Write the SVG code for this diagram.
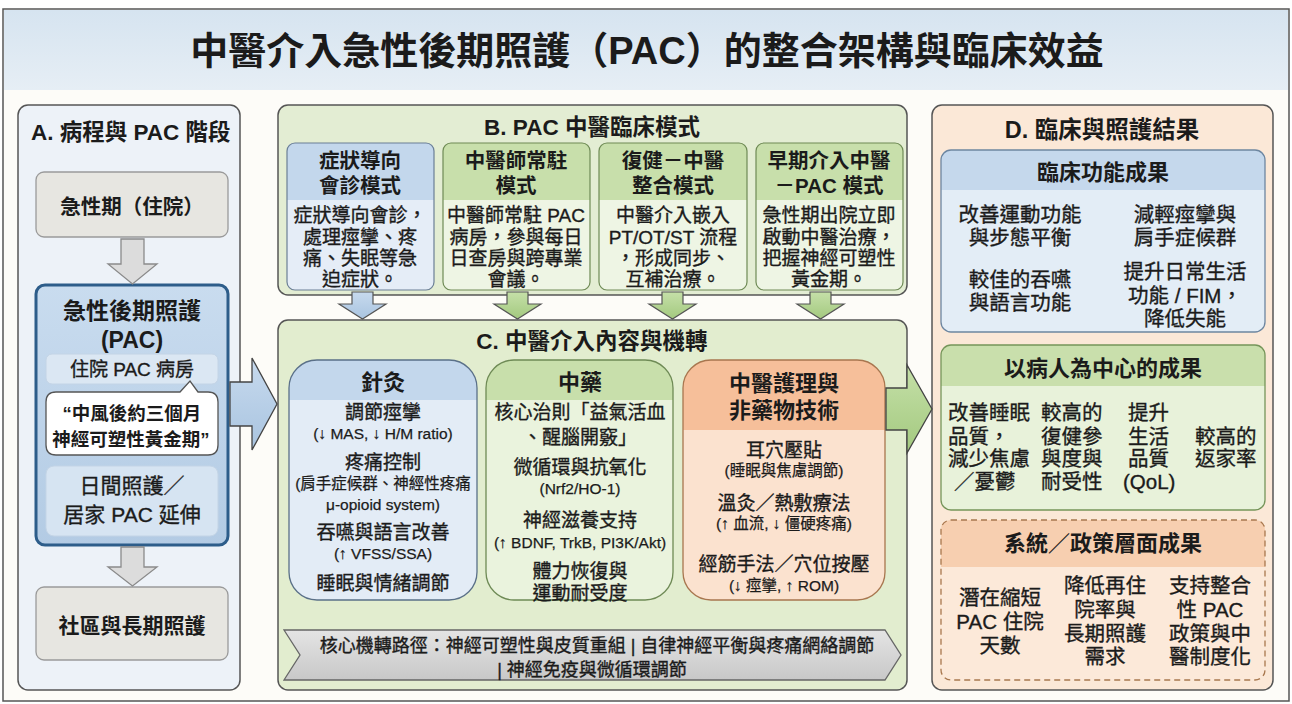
<svg xmlns="http://www.w3.org/2000/svg" width="1292" height="704" viewBox="0 0 1292 704">
<defs>
<linearGradient id="gTitle" x1="0" y1="0" x2="0" y2="1"><stop offset="0" stop-color="#d6e4f0"/><stop offset="1" stop-color="#e6eef5"/></linearGradient>
<linearGradient id="gPac" x1="0" y1="0" x2="0" y2="1"><stop offset="0" stop-color="#c9dcef"/><stop offset="1" stop-color="#b3cbe4"/></linearGradient>
<linearGradient id="gChev" x1="0" y1="0" x2="0" y2="1"><stop offset="0" stop-color="#e4e4e4"/><stop offset="1" stop-color="#c8c8c8"/></linearGradient>
<linearGradient id="gBlueArr" x1="0" y1="0" x2="0" y2="1"><stop offset="0" stop-color="#c7daee"/><stop offset="1" stop-color="#a9c4e0"/></linearGradient>
<linearGradient id="gGreenArr" x1="0" y1="0" x2="0" y2="1"><stop offset="0" stop-color="#c5e0a8"/><stop offset="1" stop-color="#a3c97f"/></linearGradient>
<style>
text{font-family:"Liberation Sans","Noto Sans CJK TC",sans-serif;fill:#1b1b1b;dominant-baseline:central}
.c{text-anchor:middle}
.b{font-weight:bold}
.t1{font-size:38px;font-weight:bold}
.ph{font-size:22.5px;font-weight:bold}
.hd{font-size:20.5px;font-weight:bold}
.hc{font-size:22px;font-weight:bold}
.bd{font-size:19px;stroke:#1b1b1b;stroke-width:0.35}
.dt{font-size:20.5px;stroke:#1b1b1b;stroke-width:0.35}
.sm{font-size:15.5px;stroke:#1b1b1b;stroke-width:0.25}
.panel{stroke:#555;stroke-width:1.5}
.gray{fill:#e7e6e1;stroke:#9a9a9a;stroke-width:1.3}
.dn{fill:#dcdcdc;stroke:#8a8a8a;stroke-width:1.3}
</style>
</defs>

<rect x="3" y="9" width="1286" height="692" fill="#fdfcf8" stroke="#555" stroke-width="1.5"/>
<rect x="4" y="10" width="1284" height="80" fill="url(#gTitle)"/>
<text id="title" class="t1 c" x="647" y="51">中醫介入急性後期照護（PAC）的整合架構與臨床效益</text>

<!-- Panel A -->
<g id="panelA">
<rect class="panel" x="18" y="105" width="222" height="585" rx="10" fill="#edf2f8"/>
<text class="ph" x="31" y="132">A. 病程與 PAC 階段</text>
</g>
<g id="acute">
<rect class="gray" x="36" y="172" width="192" height="65" rx="8"/>
<text class="hd c" x="132" y="206">急性期（住院）</text>
</g>
<g id="pac">
<rect x="36" y="285" width="192" height="260" rx="9" fill="url(#gPac)" stroke="#2d5d8a" stroke-width="3"/>
<text class="c b" font-size="23" x="132" y="311">急性後期照護</text>
<text class="c b" font-size="23" x="132" y="340">(PAC)</text>
<rect x="46" y="354" width="172" height="30" rx="6" fill="#dbe7f3" stroke="#c3d4e6"/>
<text class="bd c" font-size="20" x="132" y="369">住院 PAC 病房</text>
<path d="M56 392 H180 L190 381 L198 392 H208 Q218 392 218 402 V445 Q218 455 208 455 H56 Q46 455 46 445 V402 Q46 392 56 392 Z" fill="#fff" stroke="#555" stroke-width="1.3"/>
<text class="c b" x="132" y="413" font-size="18.5">“中風後約三個月</text>
<text class="c b" x="131" y="439" font-size="18.5">神經可塑性黃金期”</text>
<rect x="46" y="466" width="172" height="70" rx="8" fill="#d6e4f2" stroke="#c3d4e6"/>
<text class="bd c" style="font-size:21px" x="132" y="485">日間照護／</text>
<text class="bd c" style="font-size:21px" x="132" y="514">居家 PAC 延伸</text>
</g>
<g id="community">
<rect class="gray" x="36" y="587" width="192" height="73" rx="8"/>
<text class="hd c" style="font-size:21px" x="132" y="625">社區與長期照護</text>
</g>

<!-- Panel B -->
<g id="panelB">
<rect class="panel" x="278" y="105" width="629" height="190" rx="10" fill="#e3edd3"/>
<text class="ph c" x="592" y="127">B. PAC 中醫臨床模式</text>
</g>
<g id="b1">
<rect x="287" y="143" width="147" height="147" rx="8" fill="#e5edf7"/>
<path d="M287 200 V151 Q287 143 295 143 H426 Q434 143 434 151 V200 Z" fill="#c3d7ec"/>
<rect x="287" y="143" width="147" height="147" rx="8" fill="none" stroke="#6b7f95" stroke-width="1.2"/>
<text class="hd c" x="360" y="160">症狀導向</text>
<text class="hd c" x="360" y="185">會診模式</text>
<text class="bd c" x="360" y="215">症狀導向會診，</text>
<text class="bd c" x="360" y="237">處理痙攣、疼</text>
<text class="bd c" x="360" y="258">痛、失眠等急</text>
<text class="bd c" x="360" y="279">迫症狀。</text>
</g>
<g id="b2">
<rect x="443" y="143" width="147" height="147" rx="8" fill="#eef5e4"/>
<path d="M443 200 V151 Q443 143 451 143 H582 Q590 143 590 151 V200 Z" fill="#c8dfab"/>
<rect x="443" y="143" width="147" height="147" rx="8" fill="none" stroke="#6e8a55" stroke-width="1.2"/>
<text class="hd c" x="516" y="160">中醫師常駐</text>
<text class="hd c" x="516" y="185">模式</text>
<text class="bd c" x="516" y="215">中醫師常駐 PAC</text>
<text class="bd c" x="516" y="237">病房，參與每日</text>
<text class="bd c" x="516" y="258">日查房與跨專業</text>
<text class="bd c" x="516" y="279">會議。</text>
</g>
<g id="b3">
<rect x="599" y="143" width="148" height="147" rx="8" fill="#eef5e4"/>
<path d="M599 200 V151 Q599 143 607 143 H739 Q747 143 747 151 V200 Z" fill="#c8dfab"/>
<rect x="599" y="143" width="148" height="147" rx="8" fill="none" stroke="#6e8a55" stroke-width="1.2"/>
<text class="hd c" x="673" y="160">復健－中醫</text>
<text class="hd c" x="673" y="185">整合模式</text>
<text class="bd c" x="673" y="215">中醫介入嵌入</text>
<text class="bd c" x="673" y="237">PT/OT/ST 流程</text>
<text class="bd c" x="673" y="258">，形成同步、</text>
<text class="bd c" x="673" y="279">互補治療。</text>
</g>
<g id="b4">
<rect x="756" y="143" width="147" height="147" rx="8" fill="#eef5e4"/>
<path d="M756 200 V151 Q756 143 764 143 H895 Q903 143 903 151 V200 Z" fill="#c8dfab"/>
<rect x="756" y="143" width="147" height="147" rx="8" fill="none" stroke="#6e8a55" stroke-width="1.2"/>
<text class="hd c" x="829" y="160">早期介入中醫</text>
<text class="hd c" x="829" y="185">－PAC 模式</text>
<text class="bd c" x="829" y="215">急性期出院立即</text>
<text class="bd c" x="829" y="237">啟動中醫治療，</text>
<text class="bd c" x="829" y="258">把握神經可塑性</text>
<text class="bd c" x="829" y="279">黃金期。</text>
</g>

<!-- Panel C -->
<g id="panelC">
<rect class="panel" x="278" y="320" width="629" height="370" rx="10" fill="#e2edcf"/>
<text class="ph c" x="592" y="341">C. 中醫介入內容與機轉</text>
</g>
<g id="acu">
<rect x="289" y="360" width="188" height="240" rx="28" fill="#e3ecf6"/>
<path d="M289 400 V388 A28 28 0 0 1 317 360 H449 A28 28 0 0 1 477 388 V400 Z" fill="#c3d7ec"/>
<rect x="289" y="360" width="188" height="240" rx="28" fill="none" stroke="#5a7088" stroke-width="1.3"/>
<text class="hc c" x="383" y="382">針灸</text>
<text class="bd c" x="383" y="412">調節痙攣</text>
<text class="sm c" x="383" y="433">(↓ MAS, ↓ H/M ratio)</text>
<text class="bd c" x="383" y="462">疼痛控制</text>
<text class="sm c" x="383" y="483">(肩手症候群、神經性疼痛</text>
<text class="sm c" x="383" y="504">μ-opioid system)</text>
<text class="bd c" x="383" y="532">吞嚥與語言改善</text>
<text class="sm c" x="383" y="553">(↑ VFSS/SSA)</text>
<text class="bd c" x="383" y="583">睡眠與情緒調節</text>
</g>
<g id="herb">
<rect x="486" y="360" width="187" height="240" rx="28" fill="#eaf3dd"/>
<path d="M486 400 V388 A28 28 0 0 1 514 360 H645 A28 28 0 0 1 673 388 V400 Z" fill="#c8dfab"/>
<rect x="486" y="360" width="187" height="240" rx="28" fill="none" stroke="#6e8a55" stroke-width="1.3"/>
<text class="hc c" x="580" y="382">中藥</text>
<text class="bd c" x="580" y="412">核心治則「益氣活血</text>
<text class="bd c" x="580" y="437">、醒腦開竅」</text>
<text class="bd c" x="580" y="467">微循環與抗氧化</text>
<text class="sm c" x="580" y="488">(Nrf2/HO-1)</text>
<text class="bd c" x="580" y="520">神經滋養支持</text>
<text class="sm c" x="580" y="542">(↑ BDNF, TrkB, PI3K/Akt)</text>
<text class="bd c" x="580" y="571">體力恢復與</text>
<text class="bd c" x="580" y="593">運動耐受度</text>
</g>
<g id="nursing">
<rect x="683" y="360" width="202" height="240" rx="28" fill="#fbe2cf"/>
<path d="M683 430 V388 A28 28 0 0 1 711 360 H857 A28 28 0 0 1 885 388 V430 Z" fill="#f6bf9a"/>
<rect x="683" y="360" width="202" height="240" rx="28" fill="none" stroke="#a8764f" stroke-width="1.3"/>
<text class="hc c" x="784" y="383">中醫護理與</text>
<text class="hc c" x="784" y="410">非藥物技術</text>
<text class="bd c" x="784" y="450">耳穴壓貼</text>
<text class="sm c" x="784" y="470">(睡眠與焦慮調節)</text>
<text class="bd c" x="784" y="503">溫灸／熱敷療法</text>
<text class="sm c" x="784" y="523">(↑ 血流, ↓ 僵硬疼痛)</text>
<text class="bd c" x="784" y="564">經筋手法／穴位按壓</text>
<text class="sm c" x="784" y="585">(↓ 痙攣, ↑ ROM)</text>
</g>
<g id="mechanism">
<path d="M284 630 H885 L901 655 L885 680 H284 L300 655 Z" fill="url(#gChev)" stroke="#666" stroke-width="1.3"/>
<text class="bd c" style="font-size:18px" x="597" y="646">核心機轉路徑：神經可塑性與皮質重組 | 自律神經平衡與疼痛網絡調節</text>
<text class="bd c" style="font-size:18px" x="592" y="670">| 神經免疫與微循環調節</text>
</g>

<!-- Panel D -->
<g id="panelD">
<rect class="panel" x="932" y="105" width="341" height="585" rx="10" fill="#fbe8d7"/>
<text class="ph c" style="font-size:23.5px" x="1102" y="130">D. 臨床與照護結果</text>
</g>
<g id="d1">
<rect x="941" y="150" width="324" height="182" rx="10" fill="#e3edf6"/>
<path d="M941 190 V160 Q941 150 951 150 H1255 Q1265 150 1265 160 V190 Z" fill="#c5d8ec"/>
<rect x="941" y="150" width="324" height="182" rx="10" fill="none" stroke="#6d86a0" stroke-width="1.3"/>
<text class="hc c" x="1103" y="172">臨床功能成果</text>
<text class="dt c" x="1020" y="214">改善運動功能</text>
<text class="dt c" x="1020" y="237">與步態平衡</text>
<text class="dt c" x="1020" y="279">較佳的吞嚥</text>
<text class="dt c" x="1020" y="302">與語言功能</text>
<text class="dt c" x="1185" y="214">減輕痙攣與</text>
<text class="dt c" x="1185" y="237">肩手症候群</text>
<text class="dt c" x="1185" y="271">提升日常生活</text>
<text class="dt c" x="1185" y="295">功能 / FIM，</text>
<text class="dt c" x="1185" y="318">降低失能</text>
</g>
<g id="d2">
<rect x="941" y="345" width="324" height="165" rx="10" fill="#e8f2da"/>
<path d="M941 386 V355 Q941 345 951 345 H1255 Q1265 345 1265 355 V386 Z" fill="#c9dfac"/>
<rect x="941" y="345" width="324" height="165" rx="10" fill="none" stroke="#76955a" stroke-width="1.3"/>
<text class="hc c" x="1103" y="368">以病人為中心的成果</text>
<text class="dt" x="948" y="412">改善睡眠</text>
<text class="dt" x="948" y="436">品質，</text>
<text class="dt" x="948" y="458">減少焦慮</text>
<text class="dt" x="954" y="481">／憂鬱</text>
<text class="dt" x="1041" y="412">較高的</text>
<text class="dt" x="1041" y="436">復健參</text>
<text class="dt" x="1041" y="458">與度與</text>
<text class="dt" x="1041" y="481">耐受性</text>
<text class="dt" x="1128" y="412">提升</text>
<text class="dt" x="1128" y="436">生活</text>
<text class="dt" x="1128" y="458">品質</text>
<text class="dt" x="1123" y="481">(QoL)</text>
<text class="dt" x="1195" y="436">較高的</text>
<text class="dt" x="1195" y="458">返家率</text>
</g>
<g id="d3">
<rect x="941" y="520" width="324" height="160" rx="10" fill="#fce9d9"/>
<path d="M941 567 V530 Q941 520 951 520 H1255 Q1265 520 1265 530 V567 Z" fill="#f7cfb0"/>
<rect x="941" y="520" width="324" height="160" rx="10" fill="none" stroke="#a8784f" stroke-width="1.3" stroke-dasharray="6 4"/>
<text class="hc c" x="1103" y="543">系統／政策層面成果</text>
<text class="dt c" x="1000" y="597">潛在縮短</text>
<text class="dt c" x="1000" y="621">PAC 住院</text>
<text class="dt c" x="1000" y="645">天數</text>
<text class="dt c" x="1105" y="585">降低再住</text>
<text class="dt c" x="1105" y="609">院率與</text>
<text class="dt c" x="1105" y="633">長期照護</text>
<text class="dt c" x="1105" y="656">需求</text>
<text class="dt c" x="1210" y="585">支持整合</text>
<text class="dt c" x="1210" y="609">性 PAC</text>
<text class="dt c" x="1210" y="633">政策與中</text>
<text class="dt c" x="1210" y="656">醫制度化</text>
</g>

<!-- Connectors -->
<g id="connectors">
<path class="dn" d="M121 239 H144 V264 H157 L132.5 284 L108 264 H121 Z"/>
<path class="dn" d="M121 547 H144 V567 H157 L132.5 586 L108 567 H121 Z"/>
<path d="M230 382 H252 V358 L277 404 L252 450 V426 H230 Z" fill="url(#gBlueArr)" stroke="#444" stroke-width="1.3"/>
<path d="M352 292 H373 V304 H386 L362.5 319 L339 304 H352 Z" fill="url(#gBlueArr)" stroke="#555" stroke-width="1.2"/>
<path d="M507 292 H528 V304 H541 L517.5 319 L494 304 H507 Z" fill="url(#gGreenArr)" stroke="#555" stroke-width="1.2"/>
<path d="M662 292 H683 V304 H696 L672.5 319 L649 304 H662 Z" fill="url(#gGreenArr)" stroke="#555" stroke-width="1.2"/>
<path d="M810 292 H831 V304 H844 L820.5 319 L797 304 H810 Z" fill="url(#gGreenArr)" stroke="#555" stroke-width="1.2"/>
<path d="M886 388 H907 V365 L932 409 L907 453 V430 H886 Z" fill="url(#gGreenArr)" stroke="#444" stroke-width="1.3"/>
</g>
</svg>
